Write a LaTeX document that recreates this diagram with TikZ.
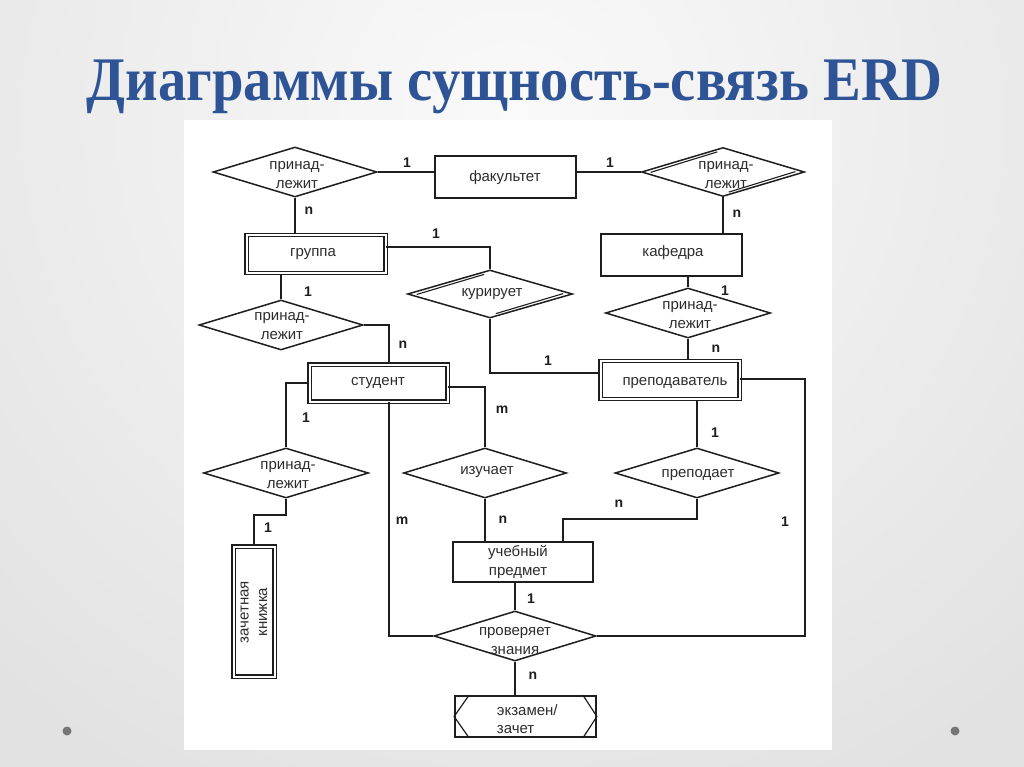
\documentclass[tikz,border=0pt]{standalone}
\usepackage{fontspec}
\setmainfont{Liberation Sans}
\newfontfamily\titlefont{Liberation Serif}
\usetikzlibrary{shapes.geometric,calc}
\definecolor{titleblue}{RGB}{46,84,150}
\definecolor{bgout}{RGB}{226,226,226}
\definecolor{bgin}{RGB}{250,250,250}
\definecolor{ink}{RGB}{30,30,30}
\definecolor{txtc}{RGB}{45,45,45}
\newlength\ttlw
\newsavebox\ttlbox
\AtBeginDocument{\sbox\ttlbox{\color{titleblue}\titlefont\bfseries\fontsize{62}{62}\selectfont Диаграммы сущность-связь ERD}\setlength\ttlw{\wd\ttlbox}}
\begin{document}
\begin{tikzpicture}[x=1pt,y=-1pt,line width=1.8pt,color=ink,
  ent/.style={draw=ink,rectangle,inner sep=0pt,line width=1.8pt},
  went/.style={draw=ink,rectangle,inner sep=0pt,double,double distance=2pt,line width=1.1pt},
  rel/.style={draw=ink,diamond,inner sep=0pt,line width=1.5pt,minimum width=164pt,minimum height=50pt},
  txt/.style={text=txtc,font=\fontsize{15}{18.5}\selectfont,align=center,inner sep=0pt},
  card/.style={text=ink,font=\fontsize{14}{14}\selectfont\bfseries,inner sep=0pt},
  dot/.style={fill={rgb,255:red,118;green,118;blue,118},draw=none}
]
\useasboundingbox (0,0) rectangle (1024,767);
\fill[bgout] (0,0) rectangle (1024,767);
\begin{scope}
\clip (0,0) rectangle (1024,767);
\shade[inner color=bgin,outer color=bgout] (512,120) circle [radius=760];
\end{scope}
% title
\pgfmathsetmacro\tsx{856/\ttlw}
\node[anchor=base west,inner sep=0pt,text=titleblue] (title) at (86,101) {\scalebox{\tsx}[1]{\usebox\ttlbox}};
% dots
\fill[dot] (67,731) circle [radius=4.5];
\fill[dot] (955,731) circle [radius=4.5];
% white panel
\fill[white] (184,120) rectangle (832,750);

% entities
\node[ent,minimum width=141pt,minimum height=42pt] (fak) at (505.5,177) {};
\node[went,minimum width=139pt,minimum height=38pt] (grp) at (316,254) {};
\node[ent,minimum width=141pt,minimum height=42pt] (kaf) at (671.5,255) {};
\node[went,minimum width=138pt,minimum height=37pt] (stu) at (378.5,383) {};
\node[went,minimum width=139pt,minimum height=38pt] (pre) at (670,380) {};
\node[went,minimum width=41pt,minimum height=130pt] (zach) at (254,611.5) {};
\node[ent,minimum width=140pt,minimum height=40pt] (ucheb) at (523,562) {};
\node[ent,minimum width=141pt,minimum height=41pt] (ekz) at (525.5,716.5) {};
% relationships
\node[rel] (r1) at (295,172) {};
\node[rel,minimum width=163pt,minimum height=49pt] (r2) at (723,172) {};
\node[rel,minimum width=165pt,minimum height=48pt] (kur) at (490,294) {};
\node[rel,minimum width=165pt] (r3) at (688,313) {};
\node[rel] (r4) at (281,325) {};
\node[rel,minimum width=165pt] (r5) at (286,473) {};
\node[rel,minimum width=163pt] (izu) at (485,473) {};
\node[rel] (prep) at (697,473) {};
\node[rel,minimum width=162pt] (prov) at (515,636) {};
% double edges of two relationships
\draw[line width=1.1pt] ($(r2.west)!0.12!(r2.north)+(0,3.4)$) -- ($(r2.west)!0.93!(r2.north)+(0,3.4)$);
\draw[line width=1.1pt] ($(r2.south)!0.07!(r2.east)+(0,-3.4)$) -- ($(r2.south)!0.88!(r2.east)+(0,-3.4)$);
\draw[line width=1.1pt] ($(kur.west)!0.12!(kur.north)+(0,3.4)$) -- ($(kur.west)!0.93!(kur.north)+(0,3.4)$);
\draw[line width=1.1pt] ($(kur.south)!0.07!(kur.east)+(0,-3.4)$) -- ($(kur.south)!0.88!(kur.east)+(0,-3.4)$);
% chevrons in exam box
\draw[line width=1.2pt] ([xshift=15pt]ekz.north west) -- (ekz.west) -- ([xshift=15pt]ekz.south west);
\draw[line width=1.2pt] ([xshift=-14pt]ekz.north east) -- (ekz.east) -- ([xshift=-14pt]ekz.south east);

% texts
\node[txt] at (505,178) {факультет};
\node[txt] at (313,254) {группа};
\node[txt] at (673,253) {кафедра};
\node[txt] at (492,294) {курирует};
\node[txt] at (378,383) {студент};
\node[txt] at (675,383) {преподаватель};
\node[txt] at (487,472) {изучает};
\node[txt] at (698,475) {преподает};
\node[txt] at (518,562) {учебный\\предмет};
\node[txt] at (515,641) {проверяет\\знания};
\node[txt,align=left,anchor=west] at (496,719) {экзамен/\\зачет};
\node[txt] at (297,175) {принад-\\лежит};
\node[txt] at (726,175) {принад-\\лежит};
\node[txt] at (690,315) {принад-\\лежит};
\node[txt] at (282,326) {принад-\\лежит};
\node[txt] at (288,475) {принад-\\лежит};
\node[txt,rotate=90] at (254,612) {зачетная\\книжка};

% connectors
\draw (r1.east) -- (r1.east -| fak.west);
\draw (r2.west -| fak.east) -- (r2.west);
\draw (r1.south) -- (r1.south |- grp.north);
\draw (r2.south) -- (r2.south |- kaf.north);
\draw ([yshift=7pt]grp.east) -| (kur.north);
\draw (kur.south) |- ([yshift=7pt]pre.west);
\draw (r3.north) -- (r3.north |- kaf.south);
\draw (r3.south) -- (r3.south |- pre.north);
\draw (r4.north) -- (r4.north |- grp.south);
\draw (r4.east) -| ([xshift=10.5pt]stu.north);
\draw (stu.west) -| (r5.north);
\coordinate (z1) at (286,515);
\draw (r5.south) -- (z1) -| (zach.north);
\draw ([yshift=-4pt]stu.east) -| (izu.north);
\draw (izu.south) -- (izu.south |- ucheb.north);
\draw ([xshift=10.5pt]stu.south) |- (prov.west);
\draw (prep.north) -- (prep.north |- pre.south);
\coordinate (p1) at (697,519);
\draw (prep.south) -- (p1) -| ([xshift=40pt]ucheb.north);
\coordinate (rr) at (805,636);
\draw ([yshift=1pt]pre.east) -| (rr) -- (prov.east);
\draw (prov.north) -- (prov.north |- ucheb.south);
\draw (prov.south) -- (prov.south |- ekz.north);

% cardinalities
\node[card] at (407,163) {1};
\node[card] at (309,211) {n};
\node[card] at (436,234) {1};
\node[card] at (308,292) {1};
\node[card] at (610,163) {1};
\node[card] at (737,214) {n};
\node[card] at (725,291) {1};
\node[card] at (403,345) {n};
\node[card] at (306,418) {1};
\node[card] at (268,528) {1};
\node[card] at (502,410) {m};
\node[card] at (402,521) {m};
\node[card] at (503,520) {n};
\node[card] at (548,361) {1};
\node[card] at (716,349) {n};
\node[card] at (715,433) {1};
\node[card] at (619,504) {n};
\node[card] at (785,522) {1};
\node[card] at (531,599) {1};
\node[card] at (533,676) {n};
\end{tikzpicture}
\end{document}
